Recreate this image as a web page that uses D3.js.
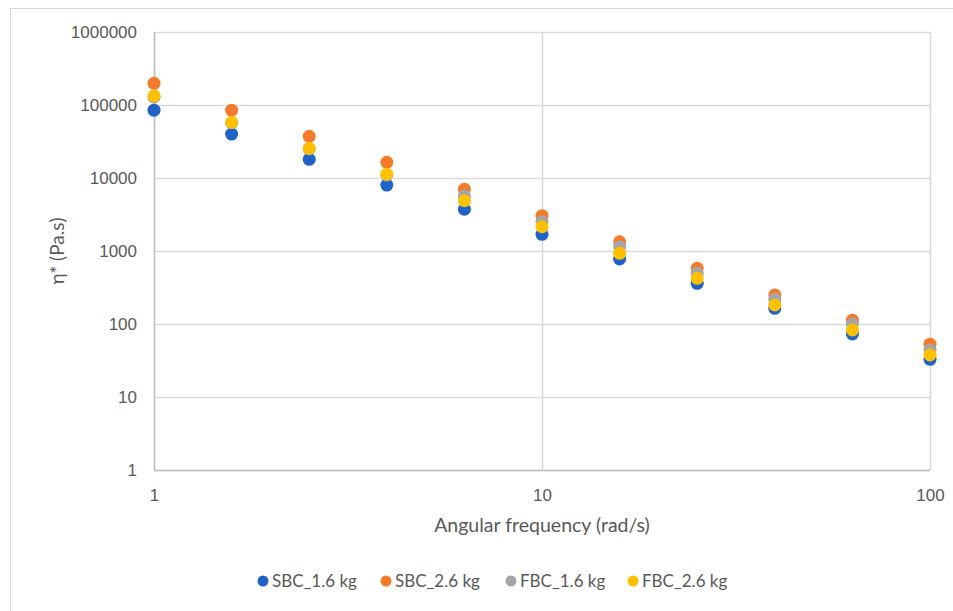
<!DOCTYPE html>
<html>
<head>
<meta charset="utf-8">
<script src="https://cdn.jsdelivr.net/npm/d3@7"></script>
<style>
  html, body { margin: 0; padding: 0; background: #fff; }
  svg { display: block; font-family: Lato, "Open Sans", sans-serif; }
</style>
</head>
<body>
<svg id="chart" width="953" height="611"></svg>
<script>
// Angular frequency (rad/s)
const frequency = [1, 1.585, 2.512, 3.981, 6.31, 10, 15.85, 25.12, 39.81, 63.1, 100];

// Complex viscosity η* (Pa.s) per sample
const sbc16 = [85000, 40000, 18000, 8000, 3730, 1690, 777, 361, 164, 73, 32.8];
const sbc26 = [198000, 85000, 37200, 16400, 7000, 3050, 1340, 580, 250, 113, 53];
const fbc16 = [128000, 57000, 25000, 11000, 5670, 2520, 1145, 495, 218, 100, 44];
const fbc26 = [133000, 58000, 25500, 11300, 4890, 2150, 930, 422, 182, 83, 37.6];

const seriesNames = ["SBC_1.6 kg", "SBC_2.6 kg", "FBC_1.6 kg", "FBC_2.6 kg"];
const seriesColors = ["#1f63c6", "#f47b2a", "#a5a5a5", "#ffc000"];
const seriesValues = [sbc16, sbc26, fbc16, fbc26];

const yTicks = [1, 10, 100, 1000, 10000, 100000, 1000000];
const xTicks = [1, 10, 100];

const svg = d3.select("#chart");
const W = 953, H = 611;
const plot = { left: 154, right: 930, top: 32, bottom: 470 };

// outer chart frame
svg.append("rect")
  .attr("x", 10.5).attr("y", 8.5)
  .attr("width", W + 10).attr("height", H + 10)
  .attr("fill", "#fff").attr("stroke", "#d9d9d9").attr("stroke-width", 1);

const x = d3.scaleLog().domain([1, 100]).range([plot.left, plot.right]);
const y = d3.scaleLog().domain([1, 1000000]).range([plot.bottom, plot.top]);

// gridlines
svg.append("g").selectAll("line.h").data(yTicks).join("line")
  .attr("x1", plot.left).attr("x2", plot.right)
  .attr("y1", d => Math.round(y(d)) + 0.5).attr("y2", d => Math.round(y(d)) + 0.5)
  .attr("stroke", "#d9d9d9").attr("stroke-width", 1.5);
svg.append("g").selectAll("line.v").data(xTicks).join("line")
  .attr("y1", plot.top).attr("y2", plot.bottom)
  .attr("x1", d => Math.round(x(d)) + 0.5).attr("x2", d => Math.round(x(d)) + 0.5)
  .attr("stroke", "#d9d9d9").attr("stroke-width", 1.5);

// axis lines
svg.append("line")
  .attr("x1", Math.round(x(1)) + 0.5).attr("x2", Math.round(x(1)) + 0.5)
  .attr("y1", plot.top).attr("y2", plot.bottom)
  .attr("stroke", "#bfbfbf").attr("stroke-width", 1.5);
svg.append("line")
  .attr("x1", plot.left).attr("x2", plot.right)
  .attr("y1", Math.round(y(1)) + 0.5).attr("y2", Math.round(y(1)) + 0.5)
  .attr("stroke", "#bfbfbf").attr("stroke-width", 1.5);

// y axis tick labels
const yAxis = d3.axisLeft(y).tickValues(yTicks).tickFormat(d3.format("d")).tickSize(0).tickPadding(17);
const gy = svg.append("g").attr("transform", `translate(${plot.left},0)`).call(yAxis);
gy.select(".domain").remove();
gy.selectAll("text").attr("fill", "#595959").style("font-size", "17px").attr("font-family", null);

// x axis tick labels
const xAxis = d3.axisBottom(x).tickValues(xTicks).tickFormat(d3.format("d")).tickSize(0).tickPadding(19);
const gx = svg.append("g").attr("transform", `translate(0,${plot.bottom})`).call(xAxis);
gx.select(".domain").remove();
gx.selectAll("text").attr("fill", "#595959").style("font-size", "17px").attr("font-family", null);

// axis titles
svg.append("text")
  .attr("x", (plot.left + plot.right) / 2).attr("y", 532)
  .attr("text-anchor", "middle").attr("fill", "#595959")
  .style("font-size", "19.5px").text("Angular frequency (rad/s)");
svg.append("text")
  .attr("transform", `translate(64,${(plot.top + plot.bottom) / 2}) rotate(-90)`)
  .attr("text-anchor", "middle").attr("fill", "#595959")
  .style("font-size", "19px").text("η* (Pa.s)");

// data markers
seriesValues.forEach((vals, i) => {
  svg.append("g").selectAll("circle").data(vals).join("circle")
    .attr("cx", (d, j) => x(frequency[j]))
    .attr("cy", d => y(d))
    .attr("r", 6.5)
    .attr("fill", seriesColors[i]);
});

// legend
const legendX = [263, 386, 511, 633];
const lg = svg.append("g");
seriesNames.forEach((name, i) => {
  lg.append("circle").attr("cx", legendX[i]).attr("cy", 581).attr("r", 5.5).attr("fill", seriesColors[i]);
  lg.append("text").attr("x", legendX[i] + 9).attr("y", 587)
    .attr("fill", "#595959").style("font-size", "17px").text(name);
});
</script>
</body>
</html>
